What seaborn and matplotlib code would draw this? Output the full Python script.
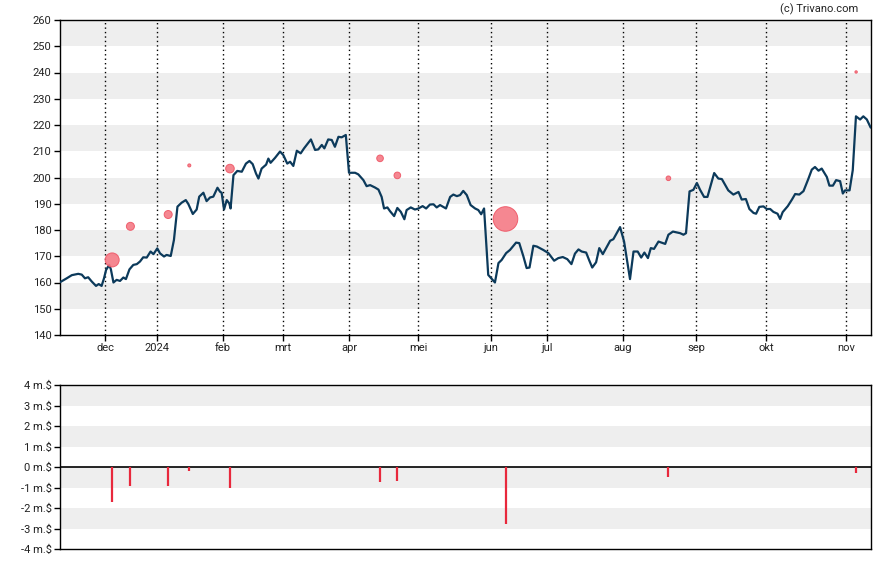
import matplotlib
matplotlib.use("Agg")
import matplotlib.pyplot as plt
import seaborn as sns
import pandas as pd
import numpy as np

# ---------------- data ----------------
# x = trading session number since the start of the window
session = [0, 2.1, 3.7, 5.7, 6.8, 7.8, 8.8, 9.9, 11.25, 12.1, 13, 13.75, 14.4, 15.4, 15.9, 16.7,
           17.7, 18.75, 19.8, 20.6, 21.7, 22.9, 24, 25, 26, 27.1, 28.3, 29.2, 30.4, 31.25, 32.5,
           33.3, 34.6, 35.6, 36.7, 38.0, 39.3, 40.1, 41.5, 42.7, 43.5, 44.8, 45.8, 46.9, 47.9,
           49.2, 50.0, 50.5, 51.25, 52.1, 52.9, 53.3, 54.2, 55.4, 56.8, 58.1, 59.2, 60.2, 61.25,
           62.0, 63.0, 64.4, 65.1, 65.8, 67.2, 68.75, 69.8, 71.0, 71.9, 72.9, 74.0, 75.2, 76.25,
           78.4, 79.7, 80.7, 81.8, 82.6, 83.8, 84.9, 85.9, 87.0, 88.0, 89.3, 90.3, 92.2, 93.2,
           94.8, 95.8, 96.9, 98.4, 99.5, 100.5, 101.25, 102.3, 103.1, 104.4, 105.4, 106.5, 107.6,
           108.3, 109.6, 110.9, 112.0, 113.3, 114.4, 115.6, 116.7, 117.7, 118.75, 120.6, 121.9,
           122.9, 124.0, 125.0, 126.0, 127.1, 128.3, 129.7, 130.7, 131.6, 132.5, 133.8, 135.9,
           137.0, 138.0, 139.4, 140.6, 142.5, 143.5, 144.8, 145.8, 146.7, 147.9, 149.0, 151.0,
           152.6, 154.4, 155.7, 157.1, 158.5, 159.8, 160.9, 162.0, 163.0, 164.4, 165.4, 166.3,
           167.5, 168.5, 169.6, 171.9, 172.9, 175.0, 176.25, 178.1, 179.2, 180.5, 181.6, 182.6,
           183.7, 184.6, 185.6, 187.0, 189.1, 190.1, 191.5, 193.75, 194.8, 195.6, 196.7, 197.9,
           199.0, 200.0, 201.25, 202.3, 204.4, 205.7, 206.8, 208.8, 210.4, 212.0, 213.0, 214.3,
           215.4, 216.7, 217.5, 218.5, 219.8, 220.8, 221.9, 222.9, 224.2, 225.0, 225.8, 227.4,
           228.7, 229.7, 231.0, 232.3, 233.8, 234.9, 235.9, 237.0, 238.0, 239.6, 240.4, 241.5,
           242.5, 243.75, 244.6, 245.3, 246.7, 247.7, 248.7, 250.0, 251.0, 252.1, 253.3]
price = [160.1, 161.6, 162.8, 163.3, 163, 161.6, 162, 160.4, 158.7, 159.4, 158.7, 161.6, 164.8,
         166.7, 165, 160, 161, 160.6, 161.9, 161.3, 165, 166.7, 167, 168, 169.6, 169.5, 171.8,
         170.8, 173, 171.1, 169.9, 170.5, 170.1, 176.2, 188.9, 190.4, 191.4, 189.9, 186.1, 187.8,
         192.7, 194.2, 191, 192.4, 192.7, 196.1, 194.6, 194.2, 187.8, 191.4, 190.1, 188.2, 200.9,
         202.5, 202.2, 205.3, 206.3, 205.1, 201.5, 199.6, 203.4, 204.9, 207.2, 205.6, 207.5,
         209.9, 208.5, 205.3, 206, 204.4, 210.2, 209.2, 211.1, 214.5, 210.5, 210.7, 212.4, 211.1,
         214.5, 214.3, 211.7, 215.5, 215.3, 216.2, 201.8, 201.8, 201.2, 199, 196.7, 197.1, 196.2,
         195.4, 192.6, 188.2, 188.6, 187.2, 185.3, 188.4, 186.9, 184.1, 187.6, 188.6, 187.8,
         188.2, 189.1, 188.2, 189.7, 189.8, 188.6, 189.5, 188.2, 192.6, 193.5, 192.9, 193.3,
         194.9, 193.3, 189.5, 188.2, 187.6, 186, 188.2, 162.9, 160, 167.4, 168.6, 171.2, 172.4,
         175.2, 175, 169.9, 165.5, 165.7, 174, 173.7, 172.4, 171.2, 168.3, 169.3, 169.7, 168.9,
         167, 171.0, 172.6, 171.8, 171.4, 168.3, 165.7, 167.7, 173.1, 170.8, 175.9, 176.5, 181.1,
         175.6, 161.3, 171.8, 171.8, 169.5, 171.4, 169.3, 173.1, 172.8, 175.6, 174.7, 178.2,
         179.4, 178.8, 178.2, 178.8, 194.7, 195.3, 197.9, 195.3, 192.6, 192.6, 201.7, 199.6,
         199.4, 195.1, 193.5, 194.5, 191.6, 191.8, 188, 186.5, 186.2, 188.8, 189, 188, 188, 186.9,
         186.2, 184.2, 186.8, 189.1, 191.6, 193.7, 193.5, 194.8, 199.4, 203, 204, 202.6, 203.4,
         200.2, 196.9, 196.9, 199, 198.6, 193.9, 195.1, 195.1, 202.8, 223.3, 222.1, 223.3, 222.1,
         219]

# insider trades
trade_session = [16.3, 22.0, 33.8, 40.4, 53.1, 100.0, 105.4, 139.2, 190.1, 248.75]
trade_price = [168.6, 181.4, 185.9, 204.6, 203.4, 207.3, 200.8, 184.2, 199.7, 240.2]
trade_shares = [49, 16, 16, 2.3, 18.5, 11, 11, 151, 5.3, 1.4]     # thousands (marker size)
trade_value = [-1.72, -0.94, -0.94, -0.21, -1.04, -0.75, -0.70, -2.79, -0.50, -0.31]  # m.$

month_session = [14.1, 30.3, 50.9, 69.7, 90.3, 111.9, 134.7, 152.2, 175.9, 198.75, 220.6, 245.6]
month_labels = ["dec", "2024", "feb", "mrt", "apr", "mei", "jun", "jul", "aug", "sep", "okt", "nov"]

price_ticks = [140, 150, 160, 170, 180, 190, 200, 210, 220, 230, 240, 250, 260]
value_ticks = [-4, -3, -2, -1, 0, 1, 2, 3, 4]

# ---------------- style ----------------
sns.set_theme(style="white")
plt.rcParams['font.family'] = ['Roboto', 'DejaVu Sans']
plt.rcParams['axes.linewidth'] = 1.0

LINE = "#0c3a5b"
RED = "#e8283c"
BAND = "#eeeeee"
TXT = "#222222"

fig = plt.figure(figsize=(8.88, 5.65), dpi=100)
ax = fig.add_axes([60 / 888, 1 - 335 / 565, 811 / 888, 315 / 565])
ax2 = fig.add_axes([60 / 888, 1 - 549 / 565, 811 / 888, 164 / 565])

xmin, xmax = 0, 253.4

# --- top panel ---
for lo in range(150, 260, 20):
    ax.axhspan(lo, lo + 10, color=BAND, lw=0, zorder=0)
for m in month_session:
    ax.axvline(m, color="black", lw=1, ls=(0, (1, 2.2)), zorder=1)

df = pd.DataFrame({"session": session, "price": price})
sns.lineplot(data=df, x="session", y="price", ax=ax, color=LINE, lw=1.6,
             sort=False, estimator=None, zorder=3)

tdf = pd.DataFrame({"session": trade_session, "price": trade_price, "shares": trade_shares})
sns.scatterplot(data=tdf, x="session", y="price", size="shares", sizes=(3, 313),
                size_norm=(min(trade_shares), max(trade_shares)), ax=ax,
                color="#f47a85", edgecolor="#ee5565", linewidth=0.7, alpha=0.9,
                legend=False, zorder=4)

ax.set_xlim(xmin, xmax)
ax.set_ylim(140, 260)
ax.set_yticks(price_ticks)
ax.set_yticklabels([str(t) for t in price_ticks])
ax.set_xticks(month_session)
ax.set_xticklabels(month_labels)
ax.set_xlabel("")
ax.set_ylabel("")
ax.tick_params(axis="both", which="both", length=4, width=1, color="black",
               labelsize=8, labelcolor=TXT, pad=2, direction="out",
               left=True, bottom=True)
for s in ax.spines.values():
    s.set_color("black")
    s.set_visible(True)

# --- bottom panel ---
for lo in [-3, -1, 1, 3]:
    ax2.axhspan(lo, lo + 1, color=BAND, lw=0, zorder=0)
ax2.axhline(0, color="black", lw=1.2, zorder=2)
ax2.vlines(trade_session, 0, trade_value, colors=RED, lw=1.6, zorder=3)
ax2.set_xlim(xmin, xmax)
ax2.set_ylim(-4, 4)
ax2.set_yticks(value_ticks)
ax2.set_yticklabels([f"{v} m.$" for v in value_ticks])
ax2.set_xticks([])
ax2.tick_params(axis="y", length=4, width=1, color="black", labelsize=8,
                labelcolor=TXT, pad=2, direction="out", left=True)
for s in ax2.spines.values():
    s.set_color("black")
    s.set_visible(True)

fig.text(858 / 888, 1 - 9 / 565, "(c) Trivano.com", ha="right", va="center",
         fontsize=8, color=TXT)

fig.savefig("out.png", dpi=100)
